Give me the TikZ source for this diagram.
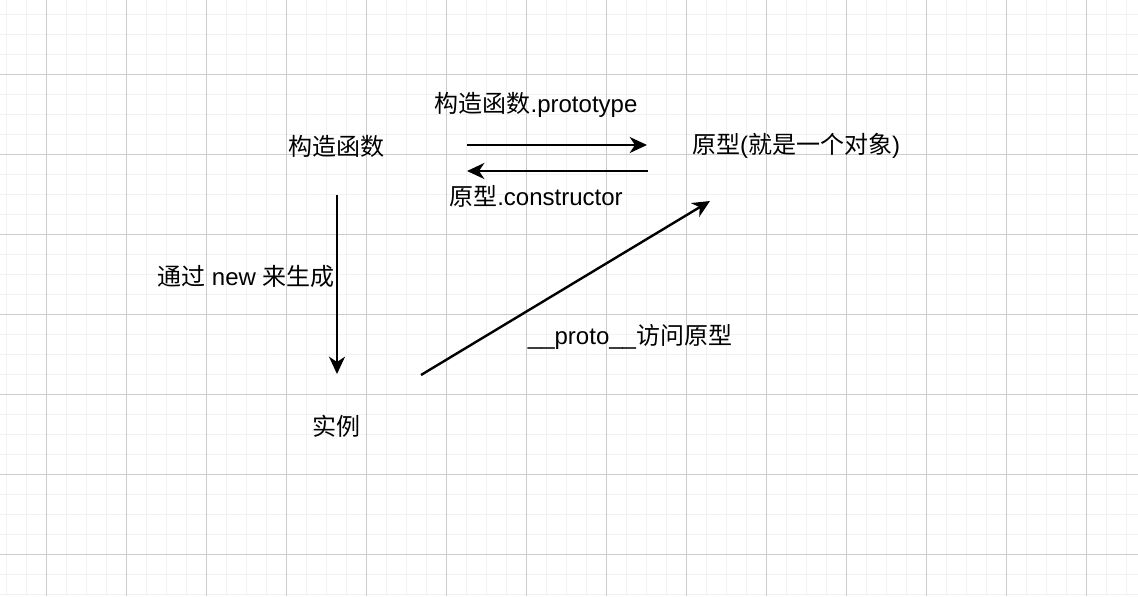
\documentclass[tikz,border=0pt]{standalone}
\usepackage{fontspec}
\setmainfont{Liberation Sans}
\newfontfamily\cjk{Noto Sans CJK SC}
\usetikzlibrary{arrows.meta}

\begin{document}
\begin{tikzpicture}[
  x=0.75pt, y=-0.75pt,
  lbl/.style={inner sep=0pt,font=\fontsize{18}{20}\selectfont},
  arr/.style={-{Stealth[length=13pt,width=12pt,inset=4pt]},line width=1.8pt},
  minor/.style={draw=black!5,line width=0.75pt},
  major/.style={draw=black!20,line width=0.75pt}
]
\useasboundingbox (0,0) rectangle (1138,596);
% grid
\foreach \x in {6.5,26.5,...,1138} \draw[minor] (\x,0) -- (\x,596);
\foreach \y in {14,34,...,596} \draw[minor] (0,\y) -- (1138,\y);
\foreach \x in {46.5,126.5,...,1138} \draw[major] (\x,0) -- (\x,596);
\foreach \y in {74,154,...,596} \draw[major] (0,\y) -- (1138,\y);

\node[lbl] (ctor)  at (336,146) {{\cjk 构造函数}};
\node[lbl] (proto) at (796,146) {{\cjk 原型}({\cjk 就是一个对象})};
\node[lbl] (inst)  at (336,426) {{\cjk 实例}};
\node[lbl] (ptlbl) at (536,105) {{\cjk 构造函数}.prototype};
\node[lbl] (cslbl) at (536,196) {{\cjk 原型}.constructor};
\node[lbl] (nwlbl) at (246,276) {{\cjk 通过} new {\cjk 来生成}};
\node[lbl] (pxlbl) at (630,337) {\_\_proto\_\_{\cjk 访问原型}};

\coordinate (pt1) at (467,145); \coordinate (pt2) at (647,145);
\coordinate (cs1) at (648,171); \coordinate (cs2) at (467,171);
\coordinate (nw1) at (337,195); \coordinate (nw2) at (337,374);
\coordinate (px1) at (421,375); \coordinate (px2) at (710,201);
\draw[arr] (pt1) -- (pt2);
\draw[arr] (cs1) -- (cs2);
\draw[arr] (nw1) -- (nw2);
\draw[arr] (px1) -- (px2);
\end{tikzpicture}
\end{document}
